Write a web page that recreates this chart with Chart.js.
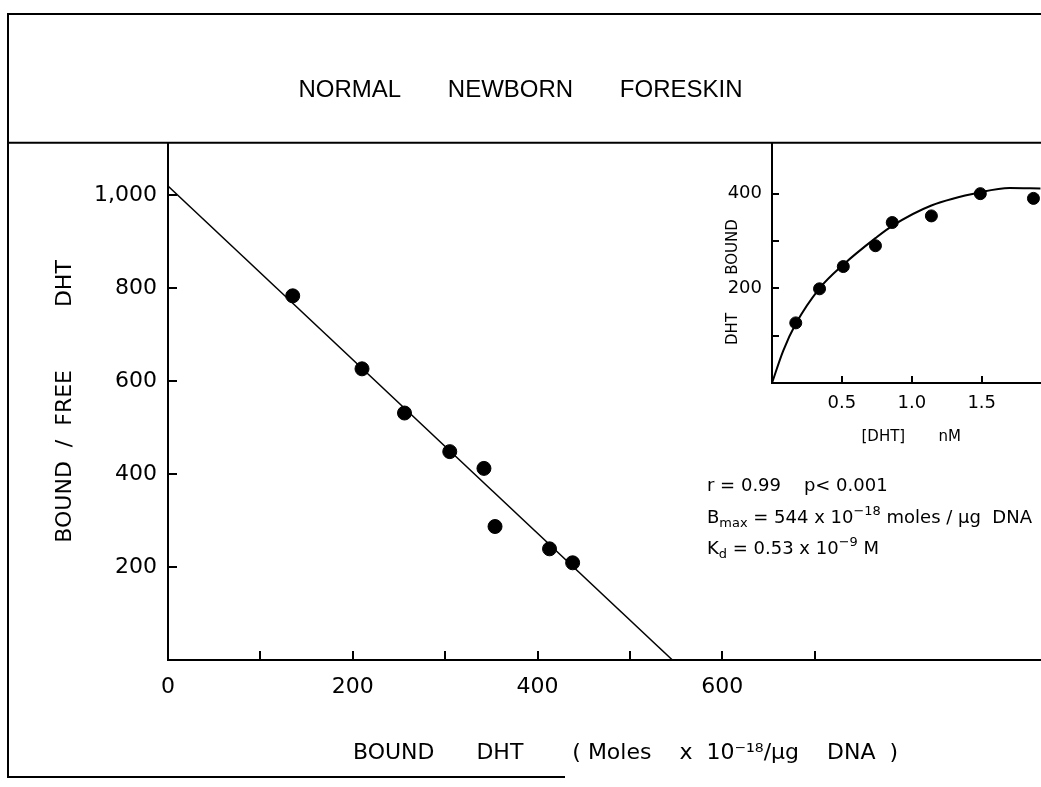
<!DOCTYPE html>
<html>
<head>
<meta charset="utf-8">
<title>Normal newborn foreskin - DHT binding</title>
<script src="https://cdn.jsdelivr.net/npm/chart.js@4.4.0/dist/chart.umd.min.js"></script>
<style>
  html, body { margin: 0; padding: 0; background: #fff; }
  #wrap { position: relative; width: 1041px; height: 787px; overflow: hidden; }
  #scatchard-chart { position: absolute; left: 0; top: 0; }
  #saturation-chart { position: absolute; left: 680px; top: 143px; }
</style>
</head>
<body>
<div id="wrap">
  <canvas id="scatchard-chart" width="1041" height="787"></canvas>
  <canvas id="saturation-chart" width="361" height="317"></canvas>
</div>
<script>
// ---------------------------------------------------------------------------
// Data
// ---------------------------------------------------------------------------
// Scatchard plot: bound DHT (moles x 10^-18 / ug DNA) vs bound/free
const boundX = [135, 210, 256, 305, 342, 354, 413, 438];
const boundFreeY = [783, 626, 531, 448, 412, 287, 239, 209];
// regression line end points
const fitX = [0, 546];
const fitY = [1019, 0];

// inset: saturation curve, [DHT] nM vs DHT bound
const dhtConc = [0.17, 0.34, 0.51, 0.74, 0.86, 1.14, 1.49, 1.87];
const dhtBound = [127, 199, 246, 290, 339, 353, 400, 390];
const curveX = [0, 0.08, 0.17, 0.34, 0.51, 0.74, 0.86, 1.14, 1.49, 1.7, 1.92];
const curveY = [0, 68, 125, 200, 250, 306, 332, 375, 403, 412, 411];

// ticks and tick labels
const xTicks = [0, 100, 200, 300, 400, 500, 600, 700];
const xTickLabels = [0, 200, 400, 600];
const yTicks = [200, 400, 600, 800, 1000];
const insetXTicks = [0.5, 1.0, 1.5];
const insetYTicks = [100, 200, 300, 400];
const insetYTickLabels = [200, 400];

// stats text rows (sub/sup parts)
const statRows = [
    [{ t: 'r = 0.99    p< 0.001' }],
    [{ t: 'B' }, { t: 'max', sub: true }, { t: ' = 544 x 10' }, { t: '\u221218', sup: true }, { t: ' moles / \u00b5g  DNA' }],
    [{ t: 'K' }, { t: 'd', sub: true }, { t: ' = 0.53 x 10' }, { t: '\u22129', sup: true }, { t: ' M' }],
];

// ---------------------------------------------------------------------------
// Helpers
// ---------------------------------------------------------------------------
const FONT = "'DejaVu Sans', 'Liberation Sans', sans-serif";
const INK = '#000';

function pairs(xs, ys) {
    return xs.map((x, i) => ({ x: x, y: ys[i] }));
}

function drawRich(c, parts, x, y, size) {
    parts.forEach(p => {
        const s = (p.sub || p.sup) ? size * 0.72 : size;
        c.font = s + 'px ' + FONT;
        const dy = p.sub ? size * 0.32 : (p.sup ? -size * 0.36 : 0);
        c.fillText(p.t, x, y + dy);
        x += c.measureText(p.t).width;
    });
}

// fixed axis box size, no extra label padding (keeps the plot area put)
function fixBox(size) {
    return s => {
        if (s.isHorizontal()) s.height = size; else s.width = size;
        s.paddingLeft = s.paddingRight = s.paddingTop = s.paddingBottom = 0;
    };
}

function useTicks(values) {
    return s => { s.ticks = values.map(v => ({ value: v })); };
}

// outer frame + header rule
const framePlugin = {
    id: 'frame',
    beforeDraw(chart) {
        const c = chart.ctx;
        c.save();
        c.strokeStyle = INK;
        c.lineWidth = 2;
        c.beginPath();
        c.moveTo(1041, 14); c.lineTo(8, 14); c.lineTo(8, 777); c.lineTo(565, 777);
        c.moveTo(8, chart.chartArea.top); c.lineTo(1041, chart.chartArea.top);
        c.stroke();
        c.restore();
    }
};

// tick marks that point into the plot
const inwardTicks = {
    id: 'inwardTicks',
    afterDraw(chart, args, opts) {
        const c = chart.ctx;
        const len = opts.length || 8;
        c.save();
        c.strokeStyle = INK;
        c.lineWidth = 2;
        c.beginPath();
        Object.values(chart.scales).forEach(s => {
            s.ticks.forEach(t => {
                if (t.value === s.min) return;
                const p = Math.round(s.getPixelForValue(t.value));
                if (s.isHorizontal()) { c.moveTo(p, s.top); c.lineTo(p, s.top - len); }
                else { c.moveTo(s.right, p); c.lineTo(s.right + len, p); }
            });
        });
        c.stroke();
        c.restore();
    }
};

const statsPlugin = {
    id: 'stats',
    afterDraw(chart) {
        const c = chart.ctx;
        c.save();
        c.fillStyle = INK;
        c.textBaseline = 'middle';
        c.textAlign = 'left';
        [486, 518, 549].forEach((y, i) => drawRich(c, statRows[i], 707, y, 18));
        c.restore();
    }
};

function axisBase() {
    return {
        type: 'linear',
        border: { display: true, color: INK, width: 2 },
        grid: { display: false, drawTicks: false },
    };
}

// ---------------------------------------------------------------------------
// Scatchard plot
// ---------------------------------------------------------------------------
function renderScatchard() {
    const x = Object.assign(axisBase(), {
        min: 0, max: 945,
        afterFit: fixBox(127),
        afterBuildTicks: useTicks(xTicks),
        ticks: {
            autoSkip: false, maxRotation: 0, padding: 14, color: INK,
            font: { family: FONT, size: 22 },
            callback: v => xTickLabels.includes(v) ? String(v) : '',
        },
        title: {
            display: true, color: INK,
            text: '      BOUND      DHT       ( Moles    x  10\u207b\u00b9\u2078/\u00b5g    DNA  )',
            font: { family: FONT, size: 22 },
            padding: { top: 0, bottom: 21 },
        },
    });

    const y = Object.assign(axisBase(), {
        min: 0, max: 1112,
        afterFit: fixBox(168),
        afterBuildTicks: useTicks(yTicks),
        ticks: {
            autoSkip: false, padding: 11, color: INK,
            font: { family: FONT, size: 22 },
            callback: v => v.toLocaleString('en-US'),
        },
        title: {
            display: true, color: INK,
            text: 'BOUND  /  FREE         DHT',
            font: { family: FONT, size: 22 },
            padding: { top: 52, bottom: 0 },
        },
    });

    new Chart(document.getElementById('scatchard-chart'), {
        type: 'scatter',
        data: {
            datasets: [{
                label: 'Bound / free',
                data: pairs(boundX, boundFreeY),
                backgroundColor: INK,
                borderColor: INK,
                borderWidth: 1,
                pointRadius: 7,
                showLine: false,
            }, {
                label: 'Fit',
                data: pairs(fitX, fitY),
                borderColor: INK,
                borderWidth: 1.5,
                pointRadius: 0,
                showLine: true,
                fill: false,
                tension: 0,
            }]
        },
        options: {
            responsive: false,
            animation: false,
            layout: { padding: 0, autoPadding: false },
            plugins: {
                legend: { display: false },
                tooltip: { enabled: false },
                inwardTicks: { length: 9 },
                title: {
                    display: true, color: INK,
                    text: 'NORMAL       NEWBORN       FORESKIN',
                    font: { family: "'Liberation Sans', Arial, sans-serif", size: 24, weight: 'normal' },
                    padding: { top: 76, bottom: 38 },
                },
            },
            scales: { x: x, y: y },
        },
        plugins: [framePlugin, inwardTicks, statsPlugin],
    });
}

// ---------------------------------------------------------------------------
// Inset: saturation curve
// ---------------------------------------------------------------------------
function renderSaturation() {
    const x = Object.assign(axisBase(), {
        min: 0, max: 1.924,
        afterFit: fixBox(77),
        afterBuildTicks: useTicks(insetXTicks),
        ticks: {
            autoSkip: false, maxRotation: 0, padding: 10, color: INK,
            font: { family: FONT, size: 18 },
            callback: v => v.toFixed(1),
        },
        title: {
            display: true, color: INK,
            text: '  [DHT]       nM',
            font: { family: FONT, size: 15 },
            padding: { top: 0, bottom: 14 },
        },
    });

    const y = Object.assign(axisBase(), {
        min: 0, max: 507,
        afterFit: fixBox(92),
        afterBuildTicks: useTicks(insetYTicks),
        ticks: {
            autoSkip: false, padding: 10, color: INK,
            font: { family: FONT, size: 18 },
            callback: v => insetYTickLabels.includes(v) ? String(v) : '',
        },
        title: {
            display: true, color: INK,
            // trailing blanks push the words down past the tick labels
            text: 'DHT        BOUND        ',
            font: { family: FONT, size: 15 },
            padding: { top: 44, bottom: 0 },
        },
    });

    new Chart(document.getElementById('saturation-chart'), {
        type: 'scatter',
        data: {
            datasets: [{
                label: 'DHT bound',
                data: pairs(dhtConc, dhtBound),
                backgroundColor: INK,
                borderColor: INK,
                borderWidth: 1,
                pointRadius: 6,
                showLine: false,
            }, {
                label: 'Curve',
                data: pairs(curveX, curveY),
                borderColor: INK,
                borderWidth: 2,
                pointRadius: 0,
                showLine: true,
                fill: false,
                cubicInterpolationMode: 'monotone',
            }]
        },
        options: {
            responsive: false,
            animation: false,
            layout: { padding: 0, autoPadding: false },
            plugins: {
                legend: { display: false },
                tooltip: { enabled: false },
                inwardTicks: { length: 7 },
            },
            scales: { x: x, y: y },
        },
        plugins: [inwardTicks],
    });
}

renderScatchard();
renderSaturation();
</script>
</body>
</html>
